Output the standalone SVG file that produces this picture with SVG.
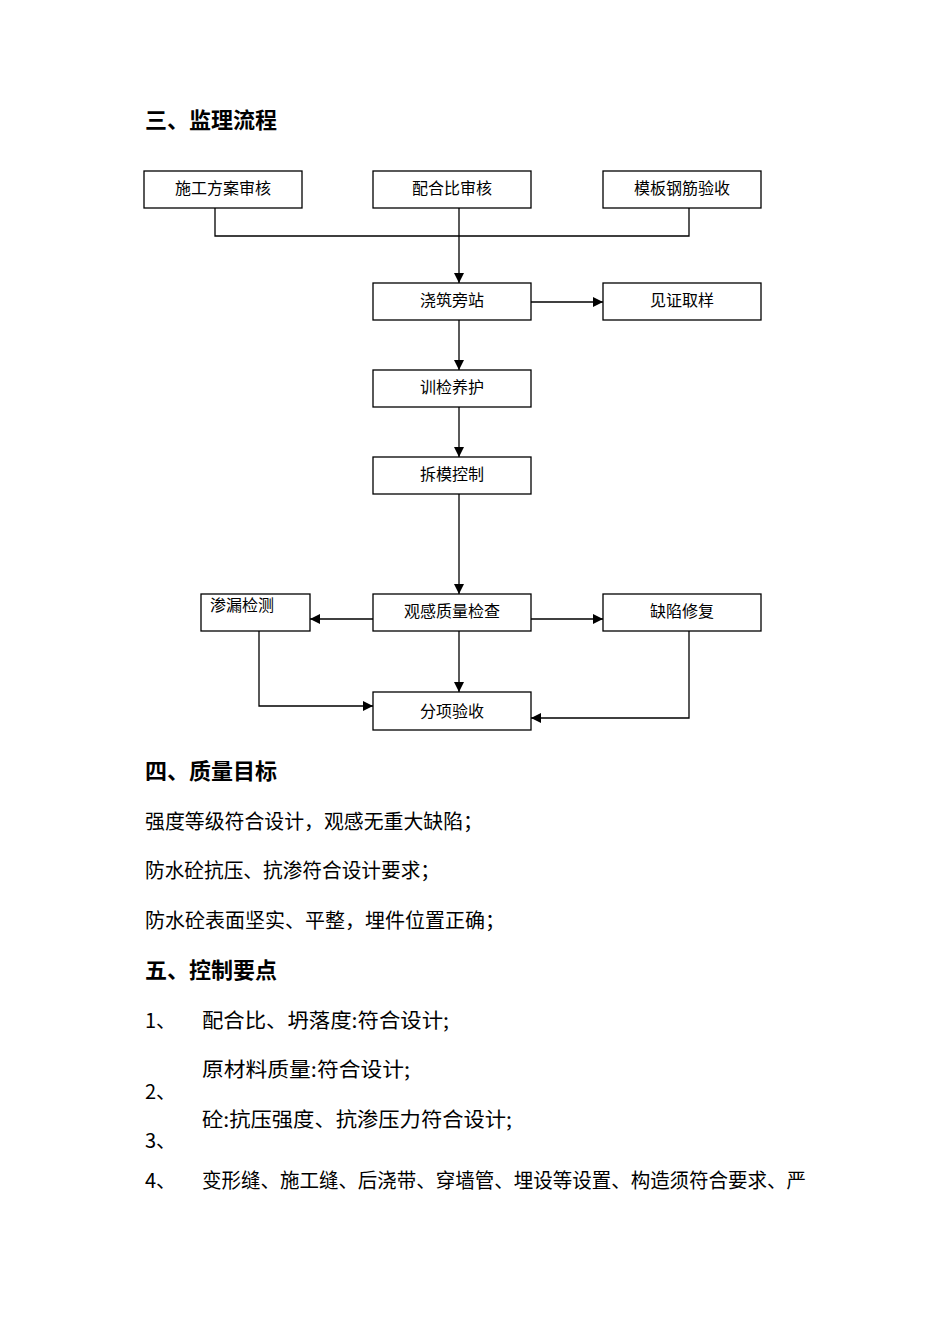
<svg xmlns="http://www.w3.org/2000/svg" width="950" height="1344" viewBox="0 0 950 1344">
<defs>
<style>
.bx{fill:#fff;stroke:#000;stroke-width:1.3}
.bt{font-family:"Noto Sans CJK SC",sans-serif;font-size:16px;fill:#000;text-anchor:middle}
.h{font-family:"Noto Sans CJK SC",sans-serif;font-size:22px;font-weight:bold;fill:#000}
.b{font-family:"Noto Sans CJK SC",sans-serif;font-size:20px;fill:#000}
.ln{fill:none;stroke:#000;stroke-width:1.3}
</style>
<marker id="ar" viewBox="0 0 10 10" refX="10" refY="5" markerWidth="10" markerHeight="10" markerUnits="userSpaceOnUse" orient="auto">
<path d="M0,0 L10,5 L0,10 z" fill="#000"/>
</marker>
</defs>
<rect width="950" height="1344" fill="#fff"/>
<text class="h" x="145" y="128">三、监理流程</text>

<g id="connectors">
<path class="ln" d="M215,208 V236 H689 V208"/>
<path class="ln" d="M459,208 V283" marker-end="url(#ar)"/>
<path class="ln" d="M531,302 H603" marker-end="url(#ar)"/>
<path class="ln" d="M459,320 V370" marker-end="url(#ar)"/>
<path class="ln" d="M459,407 V457" marker-end="url(#ar)"/>
<path class="ln" d="M459,494 V594" marker-end="url(#ar)"/>
<path class="ln" d="M373,619 H310" marker-end="url(#ar)"/>
<path class="ln" d="M531,619 H603" marker-end="url(#ar)"/>
<path class="ln" d="M459,631 V692" marker-end="url(#ar)"/>
<path class="ln" d="M259,631 V706 H373" marker-end="url(#ar)"/>
<path class="ln" d="M689,631 V718 H531" marker-end="url(#ar)"/>
</g>

<g id="n1"><rect class="bx" x="144" y="171" width="158" height="37"/><text class="bt" x="223" y="194">施工方案审核</text></g>
<g id="n2"><rect class="bx" x="373" y="171" width="158" height="37"/><text class="bt" x="452" y="194">配合比审核</text></g>
<g id="n3"><rect class="bx" x="603" y="171" width="158" height="37"/><text class="bt" x="682" y="194">模板钢筋验收</text></g>
<g id="n4"><rect class="bx" x="373" y="283" width="158" height="37"/><text class="bt" x="452" y="306">浇筑旁站</text></g>
<g id="n5"><rect class="bx" x="603" y="283" width="158" height="37"/><text class="bt" x="682" y="306">见证取样</text></g>
<g id="n6"><rect class="bx" x="373" y="370" width="158" height="37"/><text class="bt" x="452" y="393">训检养护</text></g>
<g id="n7"><rect class="bx" x="373" y="457" width="158" height="37"/><text class="bt" x="452" y="480">拆模控制</text></g>
<g id="n8"><rect class="bx" x="373" y="594" width="158" height="37"/><text class="bt" x="452" y="617">观感质量检查</text></g>
<g id="n9"><rect class="bx" x="201" y="594" width="109" height="37"/><text class="bt" x="210" y="611" style="text-anchor:start">渗漏检测</text></g>
<g id="n10"><rect class="bx" x="603" y="594" width="158" height="37"/><text class="bt" x="682" y="617">缺陷修复</text></g>
<g id="n11"><rect class="bx" x="373" y="692" width="158" height="38"/><text class="bt" x="452" y="717">分项验收</text></g>

<text class="h" x="145" y="779">四、质量目标</text>
<text class="b" x="145" y="829" textLength="338" lengthAdjust="spacingAndGlyphs">强度等级符合设计，观感无重大缺陷；</text>
<text class="b" x="145" y="878" textLength="295" lengthAdjust="spacingAndGlyphs">防水砼抗压、抗渗符合设计要求；</text>
<text class="b" x="145" y="928" textLength="360" lengthAdjust="spacingAndGlyphs">防水砼表面坚实、平整，埋件位置正确；</text>
<text class="h" x="145" y="978">五、控制要点</text>
<text class="b" x="145" y="1028">1、</text>
<text class="b" x="202" y="1028" textLength="247" lengthAdjust="spacingAndGlyphs">配合比、坍落度:符合设计;</text>
<text class="b" x="202" y="1077" textLength="208" lengthAdjust="spacingAndGlyphs">原材料质量:符合设计;</text>
<text class="b" x="145" y="1099">2、</text>
<text class="b" x="202" y="1127" textLength="310" lengthAdjust="spacingAndGlyphs">砼:抗压强度、抗渗压力符合设计;</text>
<text class="b" x="145" y="1148">3、</text>
<text class="b" x="145" y="1188">4、</text>
<text class="b" x="202" y="1188" textLength="604" lengthAdjust="spacingAndGlyphs">变形缝、施工缝、后浇带、穿墙管、埋设等设置、构造须符合要求、严</text>
</svg>
